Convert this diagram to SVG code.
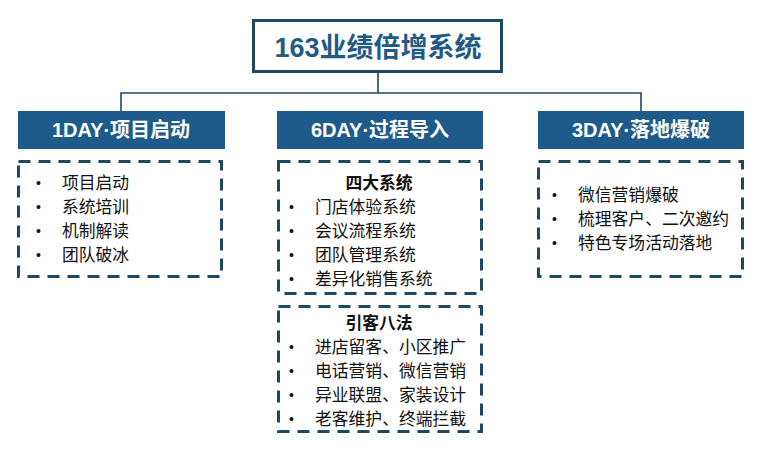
<svg xmlns="http://www.w3.org/2000/svg" width="764" height="456" viewBox="0 0 764 456">
<style>
.hdr{fill:#1F5B8A;}
.hdrt{fill:#ffffff;font-family:"Liberation Sans","Noto Sans CJK SC",sans-serif;font-weight:bold;font-size:20px;text-anchor:middle;}
.dash{fill:#ffffff;stroke:#1D4965;stroke-width:3;stroke-dasharray:12 8;}
.item{fill:#111111;font-family:"Noto Sans CJK SC",sans-serif;font-size:16.8px;}
.bul{fill:#111111;font-family:"Liberation Sans",sans-serif;font-size:14px;}
.sub{fill:#111111;font-family:"Noto Sans CJK SC",sans-serif;font-size:16.8px;font-weight:bold;text-anchor:middle;}
.conn{fill:none;stroke:#1D4965;stroke-width:1.6;}
</style>
<rect width="764" height="456" fill="#ffffff"/>
<g id="connectors">
<path class="conn" d="M378 72 V93 M121 112 V93 H641 V112"/>
</g>
<g id="title">
<rect x="253.5" y="20.5" width="248" height="51" fill="#ffffff" stroke="#1D4965" stroke-width="3"/>
<text x="378" y="57" fill="#1F5B84" font-family="Liberation Sans,'Noto Sans CJK SC',sans-serif" font-weight="bold" font-size="27" text-anchor="middle">163业绩倍增系统</text>
</g>
<g id="h1">
<rect class="hdr" x="18" y="111" width="207" height="38"/>
<text class="hdrt" x="121" y="137">1DAY·项目启动</text>
</g>
<g id="h2">
<rect class="hdr" x="277" y="111" width="206" height="38"/>
<text class="hdrt" x="380" y="137">6DAY·过程导入</text>
</g>
<g id="h3">
<rect class="hdr" x="538" y="111" width="206" height="38"/>
<text class="hdrt" x="641" y="137">3DAY·落地爆破</text>
</g>
<g id="box1">
<rect class="dash" x="18.5" y="161.5" width="203" height="115"/>
<text class="bul" x="36" y="188">•</text><text class="item" x="62" y="189">项目启动</text>
<text class="bul" x="36" y="212">•</text><text class="item" x="62" y="213">系统培训</text>
<text class="bul" x="36" y="236">•</text><text class="item" x="62" y="237">机制解读</text>
<text class="bul" x="36" y="260">•</text><text class="item" x="62" y="261">团队破冰</text>
</g>
<g id="box2">
<rect class="dash" x="278.5" y="161.5" width="203" height="132"/>
<text class="sub" x="379" y="189">四大系统</text>
<text class="bul" x="289" y="212">•</text><text class="item" x="315" y="213">门店体验系统</text>
<text class="bul" x="289" y="236">•</text><text class="item" x="315" y="237">会议流程系统</text>
<text class="bul" x="289" y="260">•</text><text class="item" x="315" y="261">团队管理系统</text>
<text class="bul" x="289" y="284">•</text><text class="item" x="315" y="285">差异化销售系统</text>
</g>
<g id="box3">
<rect class="dash" x="278.5" y="306.5" width="203" height="125"/>
<text class="sub" x="379" y="329">引客八法</text>
<text class="bul" x="289" y="352">•</text><text class="item" x="315" y="353">进店留客、小区推广</text>
<text class="bul" x="289" y="376">•</text><text class="item" x="315" y="377">电话营销、微信营销</text>
<text class="bul" x="289" y="400">•</text><text class="item" x="315" y="401">异业联盟、家装设计</text>
<text class="bul" x="289" y="424">•</text><text class="item" x="315" y="425">老客维护、终端拦截</text>
</g>
<g id="box4">
<rect class="dash" x="538.5" y="161.5" width="204" height="115"/>
<text class="bul" x="552" y="200">•</text><text class="item" x="578" y="201">微信营销爆破</text>
<text class="bul" x="552" y="224">•</text><text class="item" x="578" y="225">梳理客户、二次邀约</text>
<text class="bul" x="552" y="248">•</text><text class="item" x="578" y="249">特色专场活动落地</text>
</g>
</svg>
